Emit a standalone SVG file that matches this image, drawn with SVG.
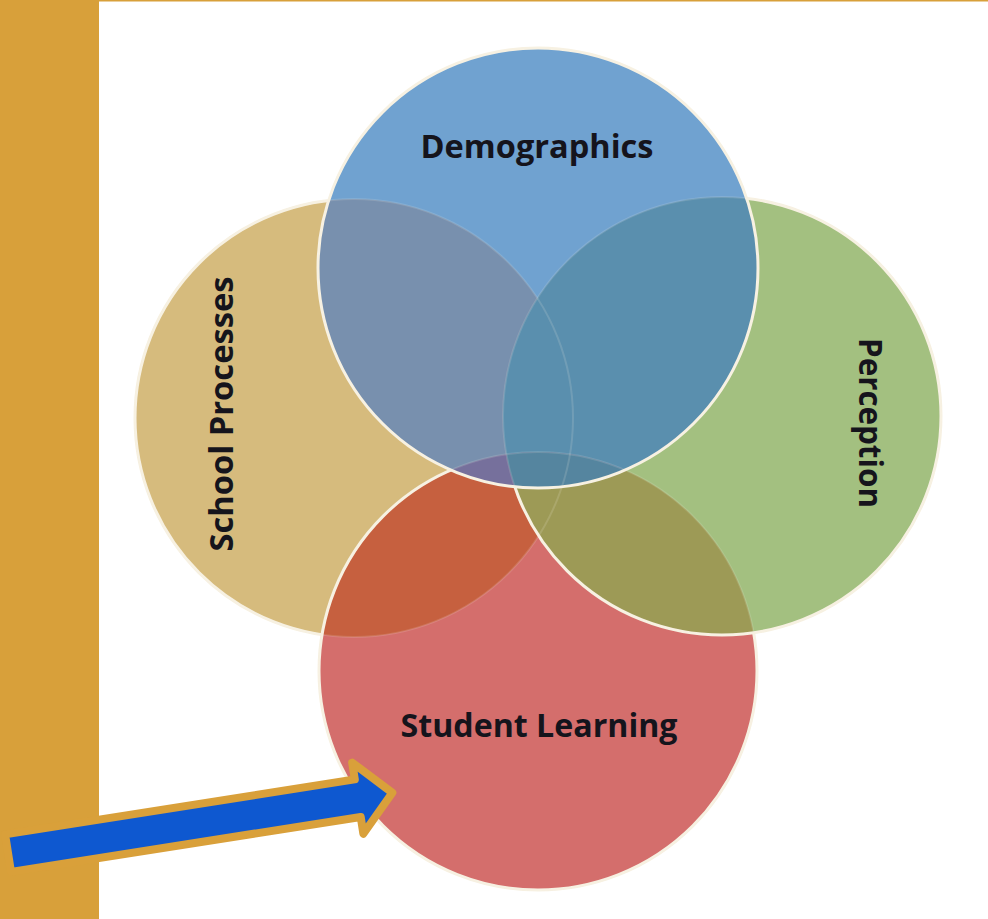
<svg xmlns="http://www.w3.org/2000/svg" width="988" height="919" viewBox="0 0 988 919">
<style>
.lbl{font-family:"Open Sans","Liberation Sans",sans-serif;font-weight:700;font-size:32px;fill:#15141c;text-anchor:middle}
.edge{fill:none;stroke:#f7f1e2;stroke-width:3}
.faint{fill:none;stroke:#f7f1e2;stroke-width:2;stroke-opacity:0.15}
</style>
<defs>
<circle id="cg" cx="354" cy="418" r="219"/>
<circle id="cr" cx="538" cy="671" r="219"/>
<circle id="cn" cx="722" cy="416" r="219"/>
<circle id="cb" cx="538" cy="268" r="220"/>
<clipPath id="clipGold"><use href="#cg"/></clipPath>
<clipPath id="clipRed"><use href="#cr"/></clipPath>
<clipPath id="clipGreen"><use href="#cn"/></clipPath>
</defs>
<rect x="0" y="0" width="988" height="919" fill="#ffffff"/>
<rect x="0" y="0" width="99" height="919" fill="#d8a03a"/>
<rect x="99" y="0" width="889" height="1.5" fill="#d8a03a"/>

<g id="school-processes">
<use href="#cg" fill="#d6bb7d"/>
<use href="#cg" class="edge"/>
</g>
<g id="student-learning">
<use href="#cr" fill="#d46e6c"/>
<g clip-path="url(#clipGold)"><use href="#cr" fill="#c6603f"/></g>
<use href="#cr" class="edge"/>
</g>
<g id="perception">
<use href="#cn" fill="#a3c080"/>
<g clip-path="url(#clipRed)"><use href="#cn" fill="#9d9a56"/></g>
<use href="#cn" class="edge"/>
</g>
<g id="demographics">
<use href="#cb" fill="#70a2d0"/>
<g clip-path="url(#clipGold)"><use href="#cb" fill="#7890ae"/></g>
<g clip-path="url(#clipGreen)"><use href="#cb" fill="#5a8fae"/></g>
<g clip-path="url(#clipRed)"><use href="#cb" fill="#76709c"/>
<g clip-path="url(#clipGreen)"><use href="#cb" fill="#55859f"/></g></g>
<use href="#cb" class="edge"/>
</g>
<g id="faint-edges">
<use href="#cg" class="faint"/>
<use href="#cr" class="faint"/>
<use href="#cn" class="faint"/>
</g>

<g id="labels">
<text class="lbl" x="537" y="158" textLength="233" lengthAdjust="spacingAndGlyphs">Demographics</text>
<text class="lbl" x="539" y="737" textLength="277" lengthAdjust="spacingAndGlyphs">Student Learning</text>
<text class="lbl" transform="translate(859 423) rotate(90)" x="0" y="0" textLength="170" lengthAdjust="spacingAndGlyphs">Perception</text>
<text class="lbl" transform="translate(233 414) rotate(-90)" x="0" y="0" textLength="275" lengthAdjust="spacingAndGlyphs">School Processes</text>
</g>

<g id="connectors">
<path transform="translate(12 852.5) rotate(-8.93)" d="M-4,-19 L350,-19 L350,-36 L385,0 L350,36 L350,19 L-4,19 Z" fill="#0e58d0" stroke="#d9a03a" stroke-width="8" stroke-linejoin="round"/>
</g>
</svg>
